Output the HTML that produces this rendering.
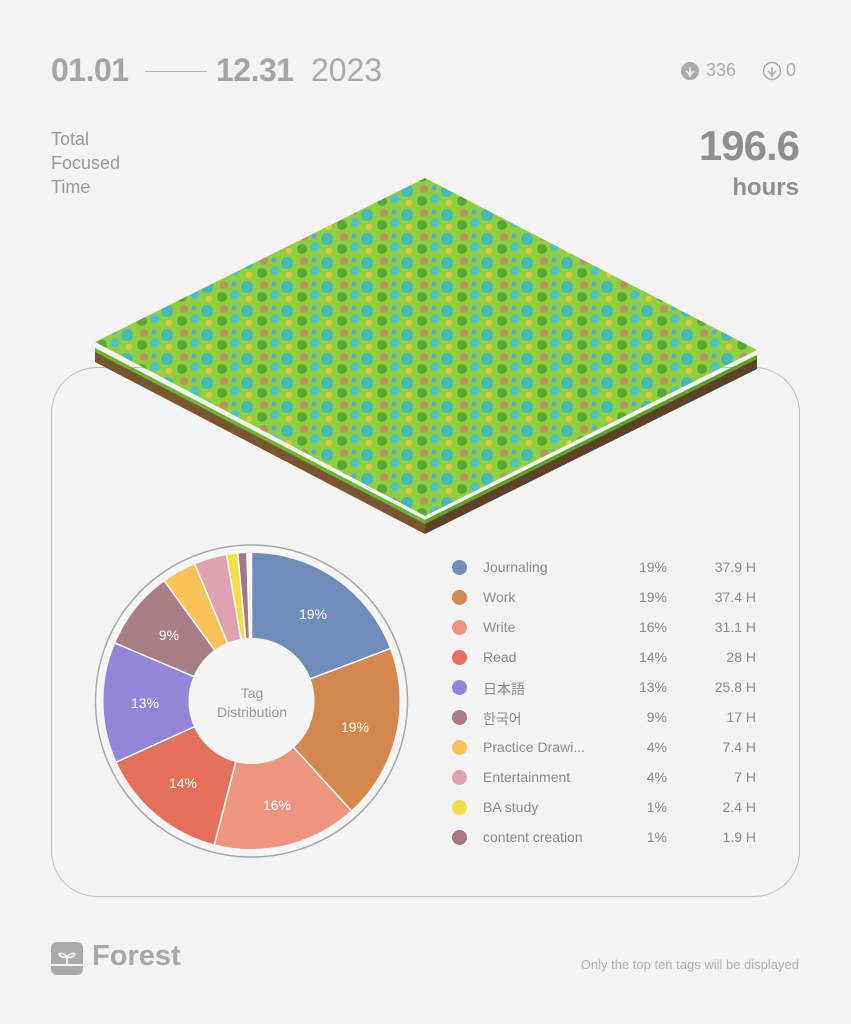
<!DOCTYPE html>
<html><head><meta charset="utf-8"><style>
body{margin:0;width:851px;height:1024px;background:#f3f3f3;position:relative;overflow:hidden;font-family:"Liberation Sans","Noto Sans CJK KR",sans-serif;color:#999}
.a{position:absolute;white-space:nowrap}
.lg{position:absolute;left:450px;width:310px;height:20px;font-size:14px;color:#8a8a8a}
.lg i{position:absolute;left:2px;top:2px;width:15px;height:15px;border-radius:50%}
.lg b{font-weight:normal;position:absolute;left:33px;top:1px}
.lg s{text-decoration:none;position:absolute;right:93px;top:1px}
.lg u{text-decoration:none;position:absolute;right:4px;top:1px}
</style></head><body>
<div class="a" style="left:51px;top:52px;font-size:32px;font-weight:bold;color:#a5a5a5;letter-spacing:-0.5px">01.01</div>
<div class="a" style="left:145px;top:71px;width:62px;height:1px;background:#b5b5b5"></div>
<div class="a" style="left:216px;top:52px;font-size:32px;font-weight:bold;color:#a5a5a5;letter-spacing:-0.5px">12.31</div>
<div class="a" style="left:311px;top:52px;font-size:32px;color:#aaa">2023</div>
<svg class="a" style="left:680px;top:60px" width="20" height="22"><circle cx="10" cy="11" r="9" fill="#aaa"/><path d="M10 7v10M6 11l4 4 4-4" stroke="#f3f3f3" stroke-width="1.6" fill="none"/></svg>
<div class="a" style="left:706px;top:60px;font-size:18px;color:#aaa">336</div>
<svg class="a" style="left:762px;top:60px" width="20" height="22"><circle cx="10" cy="11" r="8.5" fill="none" stroke="#aaa" stroke-width="1.5"/><path d="M10 7v10M6 11l4 4 4-4" stroke="#aaa" stroke-width="1.5" fill="none"/></svg>
<div class="a" style="left:786px;top:60px;font-size:18px;color:#aaa">0</div>
<div class="a" style="left:51px;top:127px;font-size:18px;line-height:24px;color:#9a9a9a">Total<br>Focused<br>Time</div>
<div class="a" style="right:52px;top:122px;font-size:42px;font-weight:bold;color:#8f8f8f;letter-spacing:-1px">196.6</div>
<div class="a" style="right:52px;top:174px;font-size:24px;font-weight:bold;color:#8f8f8f">hours</div>

<div class="a" style="left:51px;top:367px;width:747px;height:528px;border:1.5px solid #bdbdbd;border-radius:46px"></div>

<svg class="a" style="left:0;top:160px" width="851" height="380">
<defs>
<pattern id="t" width="40" height="24" patternUnits="userSpaceOnUse">
<rect width="40" height="24" fill="#8fd042"/>
<circle cx="7" cy="7" r="6" fill="#46b8b6"/><circle cx="24" cy="5" r="4" fill="#c0915e"/>
<circle cx="22" cy="17" r="5" fill="#5aa83a"/><circle cx="35" cy="15" r="4.5" fill="#4fc0c8"/>
<circle cx="9" cy="19" r="3" fill="#f2c13a"/><circle cx="34" cy="4" r="2.5" fill="#5aa6e0"/>
</pattern>
</defs>
<polygon points="95,188 425,360 425,374 95,202" fill="#7a5532"/>
<polygon points="425,360 757,195 757,209 425,374" fill="#5e4128"/>
<polygon points="95,188 425,360 425,364 95,192" fill="#6cb531"/>
<polygon points="425,360 757,195 757,199 425,364" fill="#5ea22a"/>
<polygon points="95,182 425,18 757,190 425,356" fill="url(#t)"/>
</svg>

<svg class="a" style="left:0;top:0" width="851" height="1024">
<circle cx="251.5" cy="701" r="156" fill="#f5f5f5" stroke="#a8a8a8" stroke-width="1.5"/>
<g transform="rotate(-90 251.5 701)" fill="none" stroke-width="85">
<circle cx="251.5" cy="701" r="105.5" stroke="#6f8cba" stroke-dasharray="127.6 700" stroke-dashoffset="0"/>
<circle cx="251.5" cy="701" r="105.5" stroke="#d4884e" stroke-dasharray="125.9 700" stroke-dashoffset="-127.6"/>
<circle cx="251.5" cy="701" r="105.5" stroke="#ee9580" stroke-dasharray="104.7 700" stroke-dashoffset="-253.5"/>
<circle cx="251.5" cy="701" r="105.5" stroke="#e4705c" stroke-dasharray="94.3 700" stroke-dashoffset="-358.2"/>
<circle cx="251.5" cy="701" r="105.5" stroke="#9386d8" stroke-dasharray="86.9 700" stroke-dashoffset="-452.5"/>
<circle cx="251.5" cy="701" r="105.5" stroke="#a97d86" stroke-dasharray="57.2 700" stroke-dashoffset="-539.4"/>
<circle cx="251.5" cy="701" r="105.5" stroke="#f9c35a" stroke-dasharray="24.9 700" stroke-dashoffset="-596.6"/>
<circle cx="251.5" cy="701" r="105.5" stroke="#dea2b0" stroke-dasharray="23.6 700" stroke-dashoffset="-621.5"/>
<circle cx="251.5" cy="701" r="105.5" stroke="#f5dc4a" stroke-dasharray="8.1 700" stroke-dashoffset="-645.1"/>
<circle cx="251.5" cy="701" r="105.5" stroke="#a87682" stroke-dasharray="6.4 700" stroke-dashoffset="-653.2"/>
</g>
<g stroke="#fff" stroke-width="1.5">
<line x1="251.5" y1="701" x2="251.5" y2="553"/>
<line x1="251.5" y1="701" x2="389.9" y2="648.7"/>
<line x1="251.5" y1="701" x2="351.1" y2="810.5"/>
<line x1="251.5" y1="701" x2="214.4" y2="844.3"/>
<line x1="251.5" y1="701" x2="116.6" y2="761.9"/>
<line x1="251.5" y1="701" x2="115.3" y2="643.2"/>
<line x1="251.5" y1="701" x2="164.5" y2="581.3"/>
<line x1="251.5" y1="701" x2="194.9" y2="564.3"/>
<line x1="251.5" y1="701" x2="226.6" y2="555.1"/>
<line x1="251.5" y1="701" x2="237.8" y2="553.6"/>
<line x1="251.5" y1="701" x2="246.9" y2="553.1"/>
</g>
<circle cx="251.5" cy="701" r="63" fill="#f5f5f5"/>
<g font-size="14" fill="#fff" text-anchor="middle" font-family="Liberation Sans,sans-serif">
<text x="313" y="619">19%</text><text x="355" y="732">19%</text><text x="277" y="810">16%</text>
<text x="183" y="788">14%</text><text x="145" y="708">13%</text><text x="169" y="640">9%</text>
</g>
<g font-size="14" fill="#999" text-anchor="middle" font-family="Liberation Sans,sans-serif">
<text x="252" y="698">Tag</text><text x="252" y="717">Distribution</text></g>
</svg>

<div class="lg" style="top:558px"><i style="background:#6f8cba"></i><b>Journaling</b><s>19%</s><u>37.9 H</u></div>
<div class="lg" style="top:588px"><i style="background:#d4884e"></i><b>Work</b><s>19%</s><u>37.4 H</u></div>
<div class="lg" style="top:618px"><i style="background:#ee9580"></i><b>Write</b><s>16%</s><u>31.1 H</u></div>
<div class="lg" style="top:648px"><i style="background:#e4705c"></i><b>Read</b><s>14%</s><u>28 H</u></div>
<div class="lg" style="top:678px"><i style="background:#9386d8"></i><b>日本語</b><s>13%</s><u>25.8 H</u></div>
<div class="lg" style="top:708px"><i style="background:#a97d86"></i><b>한국어</b><s>9%</s><u>17 H</u></div>
<div class="lg" style="top:738px"><i style="background:#f9c35a"></i><b>Practice Drawi...</b><s>4%</s><u>7.4 H</u></div>
<div class="lg" style="top:768px"><i style="background:#dea2b0"></i><b>Entertainment</b><s>4%</s><u>7 H</u></div>
<div class="lg" style="top:798px"><i style="background:#f5dc4a"></i><b>BA study</b><s>1%</s><u>2.4 H</u></div>
<div class="lg" style="top:828px"><i style="background:#a87682"></i><b>content creation</b><s>1%</s><u>1.9 H</u></div>

<svg class="a" style="left:51px;top:942px" width="32" height="33"><rect width="32" height="33" rx="6" fill="#aaa"/><path d="M0 23h32" stroke="#f3f3f3" stroke-width="2"/><path d="M16 22v-8M16 15c-3-4-7-4-8-3 1 3 5 4 8 3M16 15c3-4 7-4 8-3-1 3-5 4-8 3" stroke="#f3f3f3" stroke-width="1.8" fill="none"/></svg>
<div class="a" style="left:92px;top:940px;font-size:29px;font-weight:bold;color:#a8a8a8">Forest</div>
<div class="a" style="right:52px;top:957px;font-size:13px;color:#b0b0b0">Only the top ten tags will be displayed</div>
</body></html>
